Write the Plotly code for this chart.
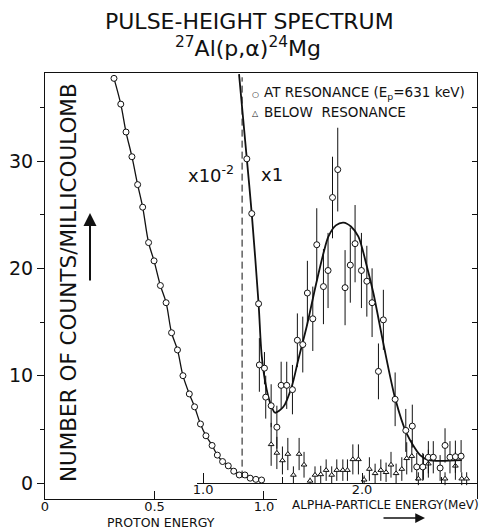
import plotly.graph_objects as go

# proton peak (drawn x10^-2), x = proton energy
proton_e = [0.315, 0.346, 0.370, 0.397, 0.423, 0.446, 0.473, 0.498, 0.527, 0.553,
            0.578, 0.605, 0.630, 0.659, 0.683, 0.710, 0.735, 0.763, 0.787, 0.811,
            0.837, 0.862, 0.887, 0.913, 0.937, 0.963, 0.989]
proton_counts = [37.7, 35.3, 32.7, 30.4, 27.8, 25.7, 22.4, 20.7, 18.4, 16.8,
                 14.0, 12.4, 10.0, 8.3, 7.1, 5.5, 4.4, 3.5, 2.6, 2.0,
                 1.6, 1.1, 0.75, 0.75, 0.45, 0.34, 0.28]

# alpha spectrum at resonance, x = alpha energy (MeV)
res_e = [1.275, 1.306, 1.349, 1.354, 1.386, 1.394, 1.428, 1.464, 1.491, 1.526,
         1.562, 1.593, 1.627, 1.656, 1.690, 1.715, 1.757, 1.786, 1.814, 1.847,
         1.893, 1.926, 1.956, 1.996, 2.030, 2.063, 2.103, 2.134, 2.208, 2.275,
         2.316, 2.344, 2.382, 2.417, 2.448, 2.491, 2.522, 2.553, 2.587, 2.623]
res_counts = [30.2, 25.1, 16.7, 11.0, 10.7, 8.0, 7.2, 5.2, 9.1, 9.1,
              8.7, 13.3, 12.9, 17.7, 15.3, 22.2, 18.3, 19.8, 26.6, 29.2,
              18.2, 20.3, 22.3, 19.8, 18.8, 16.8, 10.4, 15.2, 7.8, 4.9,
              5.3, 1.5, 1.5, 2.4, 2.4, 1.4, 3.5, 2.4, 2.45, 2.5]
res_err = [0, 0, 0, 2.5, 1.5, 2.0, 2.0, 2.0, 2.2, 2.2,
           2.3, 2.5, 2.6, 3.0, 3.0, 3.4, 3.5, 3.5, 3.8, 3.9,
           3.5, 3.5, 3.6, 3.5, 3.3, 3.2, 2.6, 2.8, 2.5, 2.0,
           2.0, 1.3, 1.3, 1.5, 1.5, 1.2, 1.6, 1.5, 1.5, 1.5]

# smooth curve drawn through the resonance data
fit_e = [1.226, 1.275, 1.306, 1.349, 1.369, 1.400, 1.426, 1.453, 1.505, 1.558,
         1.599, 1.652, 1.710, 1.757, 1.788, 1.835, 1.883, 1.930, 1.977, 2.030,
         2.071, 2.134, 2.208, 2.281, 2.365, 2.417, 2.627]
fit_counts = [38.1, 30.2, 25.1, 16.7, 11.8, 8.7, 7.3, 6.55, 7.1, 9.0,
              11.5, 14.6, 18.5, 21.4, 22.95, 24.0, 24.26, 23.9, 22.95, 20.2,
              17.7, 13.0, 7.9, 4.6, 2.6, 2.14, 2.14]

# alpha spectrum below resonance
below_e = [1.428, 1.464, 1.499, 1.533, 1.568, 1.604, 1.635, 1.673, 1.704, 1.740,
           1.774, 1.809, 1.841, 1.879, 1.908, 1.942, 1.977, 2.013, 2.046, 2.082,
           2.118, 2.151, 2.182, 2.214, 2.250, 2.281, 2.313, 2.354, 2.386, 2.417,
           2.522, 2.587, 2.627, 2.658]
below_counts = [3.6, 2.8, 2.1, 2.7, 0.75, 2.7, 1.7, 0.2, 0.75, 0.8,
                1.2, 0.75, 1.2, 1.2, 1.2, 2.2, 2.2, 0.3, 1.3, 0.9,
                1.2, 1.0, 1.7, 0.9, 1.3, 2.3, 2.5, 0.4, 1.5, 1.8,
                0.4, 1.6, 0.4, 0.4]
below_err = [2.0, 1.5, 1.3, 1.5, 0.8, 1.5, 1.2, 0.3, 0.8, 0.8,
             1.0, 0.8, 1.0, 1.0, 1.0, 1.4, 1.4, 0.4, 1.1, 0.9,
             1.0, 0.9, 1.2, 0.9, 1.1, 1.5, 1.5, 0.6, 1.2, 1.3,
             0.6, 1.3, 0.6, 0.6]

SEPARATOR_E = 0.90      # proton energy of the dashed x10^-2 | x1 boundary
Y_RANGE = [-1.49, 38.2]
FONT = "DejaVu Sans"
INK = "#111"

fig = go.Figure()

# x10^-2 / x1 separator (on the full-width top axis, proton-energy scale)
fig.add_trace(go.Scatter(
    x=[SEPARATOR_E, SEPARATOR_E], y=[0.5, 37.8], xaxis="x3", yaxis="y",
    mode="lines", line=dict(color=INK, width=1, dash="7px,4px"),
    showlegend=False, hoverinfo="skip"))

fig.add_trace(go.Scatter(
    x=proton_e, y=proton_counts, xaxis="x", yaxis="y", mode="lines+markers",
    line=dict(color=INK, width=1.3, shape="spline"),
    marker=dict(symbol="circle", size=6, color="white", line=dict(width=1, color=INK)),
    showlegend=False))

fig.add_trace(go.Scatter(
    x=fit_e, y=fit_counts, xaxis="x2", yaxis="y2", mode="lines",
    line=dict(color=INK, width=1.8, shape="spline", smoothing=0.8),
    showlegend=False, hoverinfo="skip"))

fig.add_trace(go.Scatter(
    x=below_e, y=below_counts, xaxis="x2", yaxis="y2", mode="markers",
    marker=dict(symbol="triangle-up", size=5, color="white", line=dict(width=1, color=INK)),
    error_y=dict(type="data", array=below_err, width=0, thickness=1, color=INK),
    showlegend=False))

fig.add_trace(go.Scatter(
    x=res_e, y=res_counts, xaxis="x2", yaxis="y2", mode="markers",
    marker=dict(symbol="circle", size=6, color="white", line=dict(width=1, color=INK)),
    error_y=dict(type="data", array=res_err, width=0, thickness=1, color=INK),
    showlegend=False))

line_kw = dict(showline=True, linecolor=INK, linewidth=1.2, showgrid=False,
               zeroline=False, tickcolor=INK, automargin=False)

fig.update_layout(
    # the page body adds an 8px margin, so the figure is 8px smaller each way
    width=484, height=523, autosize=False,
    margin=dict(l=37, r=15, t=65, b=32),
    paper_bgcolor="white", plot_bgcolor="rgba(0,0,0,0)",
    font=dict(family=FONT, color=INK),
    showlegend=False,
    # proton energy axis (bottom, left part)
    xaxis=dict(domain=[0, 0.537], range=[0, 1.0594], anchor="y",
               tickvals=[0, 0.5, 1.0], ticktext=["0", "0.5", "1.0"],
               ticks="inside", ticklen=8, ticklabelstandoff=-5,
               tickfont=dict(family=FONT, size=13, color=INK), **line_kw),
    # alpha-particle energy axis (at zero counts, right part)
    xaxis2=dict(domain=[0.352, 1], range=[0.962, 2.723], anchor="free",
                position=0.0375, tickvals=[1.0, 2.0], ticktext=["1.0", "2.0"],
                ticks="inside", ticklen=10, ticklabelstandoff=-6,
                minor=dict(tickvals=[1.5, 2.5], ticks="inside", ticklen=6,
                           tickcolor=INK),
                tickfont=dict(family=FONT, size=13, color=INK), **line_kw),
    # top frame
    xaxis3=dict(domain=[0, 1], range=[0, 1.9726], anchor="y", side="top",
                showticklabels=False, ticks="", **line_kw),
    yaxis=dict(range=Y_RANGE, anchor="x", tickvals=[0, 10, 20, 30],
               ticks="outside", ticklen=7,
               tickfont=dict(family=FONT, size=19, color=INK),
               minor=dict(tickvals=[5, 15, 25, 35], ticks="outside", ticklen=4,
                          tickcolor=INK), **line_kw),
    yaxis2=dict(range=Y_RANGE, anchor="x2", overlaying="y", side="right",
                tickvals=[0, 5, 10, 15, 20, 25, 30, 35], ticks="inside",
                ticklen=5, showticklabels=False, **line_kw),
)


def ann(text, x, y, size, **kw):
    # x, y: where the text centre sits in the 492x531 reference page
    opts = dict(xanchor="center", yanchor="middle")
    opts.update(kw)
    fig.add_annotation(text=text, xref="paper", yref="paper",
                       x=(x - 45) / 432, y=(499 - y) / 426, showarrow=False,
                       font=dict(family=FONT, size=size, color=INK), **opts)


ann("PULSE-HEIGHT SPECTRUM", 249, 21, 22)
ann("<sup>27</sup>Al(p,\u03b1)<sup>24</sup>Mg", 248, 47, 22)
ann("NUMBER OF COUNTS/MILLICOULOMB", 68, 283, 21.5, textangle=-90)
ann("x10<sup>-2</sup>", 211, 174, 18)
ann("x1", 272, 174, 18)
ann("\u25cb", 255, 94, 8)
ann("\u25b3", 255, 113, 8)
ann("AT RESONANCE (E<sub>p</sub>=631 keV)", 262, 93, 13.5, xanchor="left")
ann("BELOW\u00a0\u00a0RESONANCE", 262, 112, 13.5, xanchor="left")
ann("PROTON ENERGY", 161, 522, 12.5)
ann("ALPHA-PARTICLE ENERGY(MeV)", 385, 505, 12)

# arrows
fig.add_annotation(xref="paper", yref="paper", x=(90 - 45) / 432, y=(499 - 213) / 426,
                   ax=0, ay=69, showarrow=True, arrowhead=2, arrowsize=1.3,
                   arrowwidth=2, arrowcolor=INK, text="")
fig.add_annotation(xref="paper", yref="paper", x=(425 - 45) / 432, y=(499 - 518) / 426,
                   ax=-43, ay=0, showarrow=True, arrowhead=2, arrowsize=1.3,
                   arrowwidth=1.5, arrowcolor=INK, text="")

fig.write_html("out.html")
